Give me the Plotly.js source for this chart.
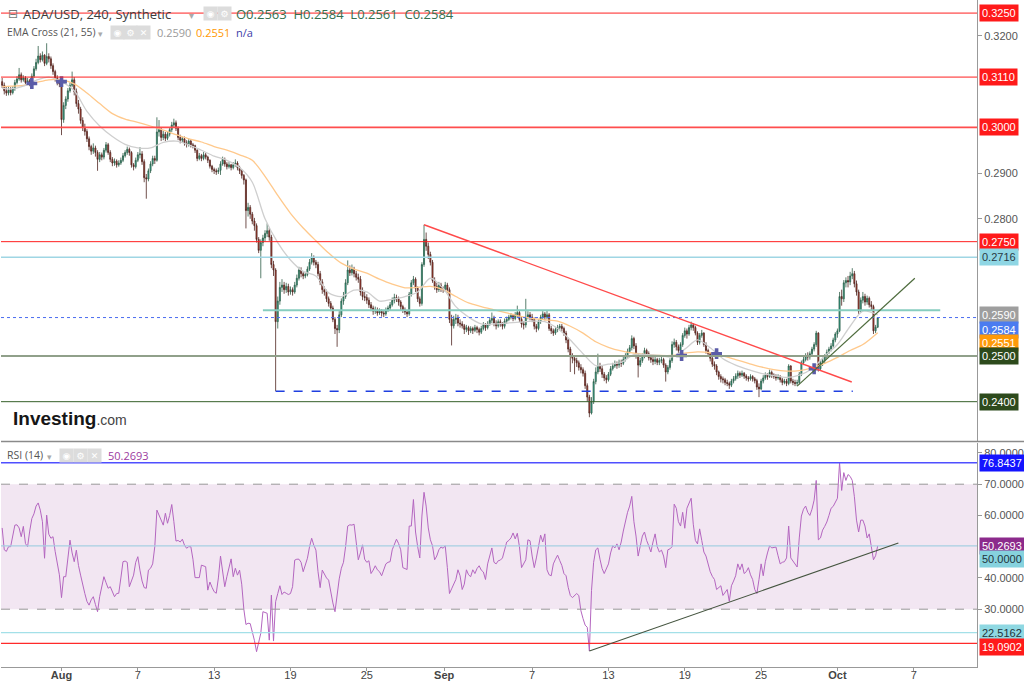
<!DOCTYPE html>
<html><head><meta charset="utf-8">
<script src="https://cdn.plot.ly/plotly-3.0.1.min.js"></script>
<style>html,body{margin:0;padding:0;background:#fff}#chart{width:1024px;height:685px}</style>
</head><body><div id="chart"></div>
<script>
// ---------- DATA (ADA/USD, 4h candles) ----------
const firstCandle = '2023-07-27T08:00:00Z';
const firstOpen = 0.3100;
const closes = [
0.3092,0.3080,0.3075,0.3082,
0.3076,0.3085,0.3098,0.3106,0.3115,0.3104,
0.3108,0.3098,0.3102,0.3096,0.3112,0.3128,
0.3142,0.3156,0.3148,0.3158,0.3140,0.3155,
0.3150,0.3135,0.3122,0.3108,0.3100,0.3095,
0.3017,0.3048,0.3062,0.3080,0.3092,0.3104,
0.3078,0.3052,0.3040,0.3015,0.3000,0.2991,
0.2975,0.2958,0.2948,0.2955,0.2945,0.2930,
0.2940,0.2935,0.2950,0.2962,0.2945,0.2930,
0.2922,0.2926,0.2918,0.2922,0.2928,0.2938,
0.2945,0.2952,0.2945,0.2918,0.2914,0.2928,
0.2940,0.2942,0.2925,0.2890,0.2887,0.2905,
0.2920,0.2932,0.2928,0.2990,0.2995,0.2978,
0.2985,0.2976,0.2985,0.2995,0.3005,0.3010,
0.2998,0.2978,0.2972,0.2975,0.2966,0.2963,
0.2970,0.2962,0.2960,0.2950,0.2932,0.2938,
0.2932,0.2940,0.2935,0.2928,0.2915,0.2908,
0.2905,0.2903,0.2906,0.2920,0.2930,0.2920,
0.2914,0.2918,0.2912,0.2918,0.2922,0.2912,
0.2905,0.2895,0.2885,0.2818,0.2825,0.2810,
0.2795,0.2785,0.2755,0.2731,0.2748,0.2758,
0.2768,0.2774,0.2760,0.2700,0.2688,0.2575,
0.2620,0.2650,0.2655,0.2645,0.2652,0.2640,
0.2645,0.2640,0.2655,0.2670,0.2688,0.2680,
0.2675,0.2678,0.2690,0.2705,0.2715,0.2705,
0.2700,0.2680,0.2662,0.2645,0.2640,0.2625,
0.2615,0.2605,0.2580,0.2560,0.2557,0.2590,
0.2620,0.2630,0.2660,0.2688,0.2682,0.2690,
0.2680,0.2672,0.2668,0.2640,0.2630,0.2628,
0.2622,0.2612,0.2605,0.2598,0.2600,0.2594,
0.2598,0.2594,0.2592,0.2600,0.2605,0.2612,
0.2622,0.2628,0.2625,0.2618,0.2608,0.2600,
0.2596,0.2592,0.2635,0.2660,0.2668,0.2648,
0.2625,0.2615,0.2700,0.2755,0.2740,0.2722,
0.2705,0.2665,0.2652,0.2645,0.2655,0.2648,
0.2645,0.2655,0.2645,0.2580,0.2566,0.2580,
0.2583,0.2572,0.2570,0.2566,0.2558,0.2562,
0.2555,0.2560,0.2556,0.2562,0.2558,0.2552,
0.2560,0.2568,0.2562,0.2570,0.2578,0.2582,
0.2572,0.2566,0.2575,0.2570,0.2565,0.2576,
0.2580,0.2585,0.2588,0.2582,0.2590,0.2595,
0.2580,0.2570,0.2568,0.2585,0.2590,0.2585,
0.2580,0.2565,0.2560,0.2575,0.2585,0.2592,
0.2585,0.2590,0.2560,0.2555,0.2550,0.2558,
0.2562,0.2565,0.2560,0.2550,0.2535,0.2515,
0.2500,0.2495,0.2490,0.2485,0.2475,0.2470,
0.2462,0.2435,0.2410,0.2375,0.2400,0.2444,
0.2465,0.2478,0.2472,0.2460,0.2452,0.2448,
0.2460,0.2472,0.2478,0.2482,0.2480,0.2486,
0.2484,0.2492,0.2500,0.2510,0.2518,0.2538,
0.2522,0.2500,0.2480,0.2490,0.2500,0.2512,
0.2505,0.2496,0.2492,0.2488,0.2492,0.2486,
0.2490,0.2492,0.2480,0.2465,0.2475,0.2490,
0.2525,0.2530,0.2520,0.2512,0.2525,0.2545,
0.2555,0.2548,0.2562,0.2568,0.2562,0.2550,
0.2530,0.2545,0.2550,0.2525,0.2512,0.2505,
0.2495,0.2482,0.2478,0.2465,0.2455,0.2450,
0.2448,0.2442,0.2440,0.2436,0.2445,0.2450,
0.2456,0.2462,0.2458,0.2462,0.2456,0.2452,
0.2450,0.2455,0.2450,0.2446,0.2432,0.2428,
0.2445,0.2452,0.2458,0.2455,0.2464,0.2458,
0.2455,0.2452,0.2455,0.2448,0.2442,0.2445,
0.2440,0.2478,0.2445,0.2442,0.2440,0.2442,
0.2460,0.2485,0.2492,0.2500,0.2498,0.2505,
0.2515,0.2525,0.2550,0.2472,0.2485,0.2490,
0.2498,0.2508,0.2515,0.2522,0.2535,0.2548,
0.2555,0.2630,0.2625,0.2660,0.2665,0.2662,
0.2675,0.2680,0.2658,0.2640,0.2598,0.2622,
0.2630,0.2618,0.2626,0.2612,0.2608,0.2555,
0.2563,0.2584];
const highs = [
0.3108,0.3098,0.3088,0.3090,
0.3088,0.3090,0.3104,0.3112,0.3130,0.3120,
0.3114,0.3112,0.3108,0.3106,0.3118,0.3134,
0.3150,0.3178,0.3162,0.3166,0.3160,0.3184,
0.3162,0.3155,0.3140,0.3126,0.3114,0.3106,
0.3098,0.3055,0.3068,0.3086,0.3098,0.3122,
0.3110,0.3085,0.3060,0.3045,0.3022,0.3008,
0.2996,0.2980,0.2962,0.2965,0.2960,0.2950,
0.2946,0.2945,0.2955,0.2968,0.2966,0.2950,
0.2935,0.2932,0.2930,0.2928,0.2934,0.2944,
0.2950,0.2958,0.2956,0.2948,0.2922,0.2934,
0.2946,0.2957,0.2948,0.2930,0.2898,0.2910,
0.2926,0.2938,0.2938,0.3022,0.3016,0.3000,
0.2992,0.2990,0.2990,0.3000,0.3012,0.3019,
0.3015,0.3002,0.2984,0.2980,0.2980,0.2972,
0.2976,0.2974,0.2966,0.2962,0.2952,0.2944,
0.2942,0.2946,0.2944,0.2938,0.2930,0.2918,
0.2912,0.2910,0.2912,0.2926,0.2936,0.2934,
0.2924,0.2924,0.2920,0.2924,0.2930,0.2926,
0.2916,0.2908,0.2898,0.2888,0.2835,0.2830,
0.2815,0.2802,0.2790,0.2760,0.2755,0.2765,
0.2775,0.2790,0.2780,0.2765,0.2708,0.2692,
0.2630,0.2662,0.2668,0.2662,0.2660,0.2658,
0.2652,0.2650,0.2662,0.2678,0.2695,0.2694,
0.2685,0.2684,0.2696,0.2712,0.2725,0.2720,
0.2710,0.2706,0.2686,0.2668,0.2652,0.2645,
0.2630,0.2620,0.2610,0.2585,0.2568,0.2598,
0.2626,0.2640,0.2668,0.2709,0.2698,0.2700,
0.2695,0.2686,0.2680,0.2675,0.2650,0.2640,
0.2635,0.2628,0.2618,0.2610,0.2608,0.2606,
0.2604,0.2602,0.2600,0.2606,0.2610,0.2618,
0.2628,0.2636,0.2634,0.2630,0.2622,0.2612,
0.2606,0.2600,0.2640,0.2666,0.2675,0.2672,
0.2652,0.2630,0.2705,0.2787,0.2770,0.2748,
0.2728,0.2710,0.2672,0.2660,0.2662,0.2660,
0.2652,0.2662,0.2660,0.2650,0.2590,0.2588,
0.2592,0.2590,0.2580,0.2576,0.2570,0.2568,
0.2566,0.2565,0.2564,0.2568,0.2566,0.2562,
0.2566,0.2574,0.2572,0.2576,0.2584,0.2595,
0.2588,0.2578,0.2580,0.2580,0.2574,0.2582,
0.2586,0.2590,0.2594,0.2592,0.2596,0.2610,
0.2600,0.2585,0.2576,0.2625,0.2598,0.2596,
0.2592,0.2584,0.2570,0.2580,0.2590,0.2598,
0.2596,0.2600,0.2594,0.2566,0.2560,0.2564,
0.2568,0.2570,0.2570,0.2564,0.2555,0.2540,
0.2520,0.2506,0.2500,0.2496,0.2490,0.2482,
0.2475,0.2468,0.2440,0.2415,0.2410,0.2450,
0.2475,0.2505,0.2485,0.2478,0.2465,0.2458,
0.2465,0.2478,0.2485,0.2490,0.2488,0.2492,
0.2492,0.2498,0.2506,0.2516,0.2524,0.2545,
0.2542,0.2528,0.2505,0.2496,0.2506,0.2518,
0.2516,0.2510,0.2500,0.2498,0.2498,0.2496,
0.2496,0.2498,0.2496,0.2484,0.2480,0.2495,
0.2532,0.2538,0.2535,0.2525,0.2530,0.2550,
0.2562,0.2560,0.2568,0.2575,0.2572,0.2566,
0.2554,0.2550,0.2557,0.2552,0.2530,0.2516,
0.2508,0.2498,0.2488,0.2482,0.2468,0.2460,
0.2455,0.2452,0.2448,0.2444,0.2450,0.2456,
0.2462,0.2468,0.2466,0.2468,0.2465,0.2460,
0.2456,0.2460,0.2458,0.2454,0.2450,0.2440,
0.2450,0.2458,0.2464,0.2462,0.2470,0.2468,
0.2462,0.2460,0.2460,0.2458,0.2452,0.2450,
0.2450,0.2482,0.2480,0.2450,0.2448,0.2448,
0.2465,0.2490,0.2498,0.2506,0.2508,0.2510,
0.2520,0.2530,0.2555,0.2552,0.2490,0.2496,
0.2504,0.2514,0.2520,0.2528,0.2540,0.2552,
0.2560,0.2640,0.2645,0.2666,0.2672,0.2675,
0.2684,0.2692,0.2686,0.2665,0.2645,0.2628,
0.2640,0.2636,0.2632,0.2630,0.2620,0.2612,
0.2568,0.2584];
const lows = [
0.3086,0.3072,0.3069,0.3070,
0.3070,0.3072,0.3080,0.3094,0.3102,0.3098,
0.3100,0.3094,0.3094,0.3090,0.3092,0.3108,
0.3124,0.3138,0.3142,0.3144,0.3134,0.3136,
0.3142,0.3128,0.3115,0.3100,0.3092,0.3088,
0.2983,0.3010,0.3040,0.3056,0.3076,0.3088,
0.3070,0.3045,0.3030,0.3008,0.2992,0.2982,
0.2968,0.2950,0.2940,0.2942,0.2936,0.2905,
0.2924,0.2928,0.2930,0.2945,0.2940,0.2924,
0.2915,0.2916,0.2912,0.2914,0.2918,0.2924,
0.2934,0.2940,0.2938,0.2912,0.2906,0.2910,
0.2924,0.2932,0.2918,0.2880,0.2844,0.2882,
0.2900,0.2915,0.2920,0.2925,0.2980,0.2970,
0.2972,0.2970,0.2972,0.2980,0.2990,0.3000,
0.2992,0.2972,0.2965,0.2966,0.2960,0.2956,
0.2958,0.2956,0.2954,0.2944,0.2926,0.2928,
0.2926,0.2928,0.2930,0.2922,0.2910,0.2902,
0.2898,0.2896,0.2898,0.2896,0.2916,0.2914,
0.2908,0.2910,0.2906,0.2908,0.2914,0.2906,
0.2898,0.2888,0.2875,0.2779,0.2805,0.2800,
0.2788,0.2774,0.2748,0.2725,0.2670,0.2740,
0.2750,0.2760,0.2752,0.2692,0.2675,0.2423,
0.2560,0.2612,0.2640,0.2636,0.2638,0.2632,
0.2634,0.2632,0.2636,0.2650,0.2665,0.2672,
0.2668,0.2670,0.2674,0.2686,0.2700,0.2698,
0.2692,0.2674,0.2655,0.2636,0.2632,0.2618,
0.2608,0.2598,0.2574,0.2548,0.2520,0.2550,
0.2585,0.2612,0.2625,0.2655,0.2675,0.2676,
0.2672,0.2665,0.2660,0.2632,0.2622,0.2620,
0.2614,0.2605,0.2598,0.2590,0.2592,0.2588,
0.2590,0.2586,0.2585,0.2588,0.2596,0.2600,
0.2608,0.2615,0.2618,0.2610,0.2600,0.2594,
0.2590,0.2585,0.2588,0.2630,0.2655,0.2640,
0.2618,0.2608,0.2610,0.2695,0.2730,0.2712,
0.2698,0.2660,0.2645,0.2638,0.2640,0.2640,
0.2638,0.2640,0.2638,0.2572,0.2523,0.2560,
0.2570,0.2565,0.2562,0.2560,0.2548,0.2552,
0.2546,0.2550,0.2548,0.2552,0.2550,0.2545,
0.2548,0.2556,0.2555,0.2558,0.2566,0.2572,
0.2565,0.2558,0.2562,0.2564,0.2558,0.2560,
0.2570,0.2576,0.2580,0.2576,0.2578,0.2584,
0.2574,0.2562,0.2558,0.2562,0.2580,0.2578,
0.2574,0.2558,0.2552,0.2556,0.2570,0.2580,
0.2578,0.2580,0.2555,0.2548,0.2544,0.2546,
0.2552,0.2556,0.2554,0.2544,0.2528,0.2508,
0.2465,0.2484,0.2460,0.2476,0.2468,0.2462,
0.2455,0.2428,0.2400,0.2366,0.2372,0.2395,
0.2438,0.2460,0.2465,0.2452,0.2445,0.2440,
0.2444,0.2456,0.2468,0.2474,0.2472,0.2474,
0.2476,0.2480,0.2488,0.2496,0.2506,0.2512,
0.2515,0.2494,0.2453,0.2476,0.2485,0.2495,
0.2498,0.2490,0.2485,0.2480,0.2482,0.2480,
0.2480,0.2484,0.2474,0.2444,0.2460,0.2470,
0.2485,0.2518,0.2512,0.2500,0.2506,0.2520,
0.2540,0.2538,0.2544,0.2556,0.2555,0.2545,
0.2524,0.2525,0.2540,0.2520,0.2505,0.2498,
0.2488,0.2476,0.2470,0.2458,0.2448,0.2442,
0.2440,0.2436,0.2434,0.2428,0.2432,0.2440,
0.2446,0.2450,0.2452,0.2454,0.2450,0.2446,
0.2444,0.2446,0.2444,0.2440,0.2426,0.2410,
0.2425,0.2440,0.2448,0.2448,0.2452,0.2452,
0.2450,0.2446,0.2448,0.2442,0.2436,0.2438,
0.2434,0.2436,0.2440,0.2436,0.2434,0.2434,
0.2438,0.2456,0.2480,0.2488,0.2490,0.2492,
0.2500,0.2510,0.2520,0.2466,0.2468,0.2478,
0.2484,0.2494,0.2504,0.2510,0.2518,0.2530,
0.2540,0.2552,0.2610,0.2618,0.2650,0.2650,
0.2655,0.2668,0.2650,0.2632,0.2592,0.2595,
0.2615,0.2610,0.2612,0.2606,0.2600,0.2548,
0.2550,0.2561];
// RSI(14), one value per candle
const rsi = [
56.0,49.0,48.5,50.0,
50.0,53.0,56.9,57.0,56.0,53.2,
56.5,51.0,50.0,55.0,59.0,60.5,
63.0,64.0,61.7,58.0,46.3,60.1,
54.0,52.7,53.2,48.5,45.2,41.0,
33.7,40.4,40.4,46.0,52.1,48.0,
45.2,48.9,44.0,40.9,37.5,35.0,
32.5,31.3,33.0,34.0,31.5,29.2,
34.0,37.0,40.4,38.5,36.7,37.2,
35.5,34.0,35.0,35.1,40.0,45.2,
45.4,45.0,37.2,39.0,40.9,45.0,
46.8,42.5,39.0,36.9,36.7,42.5,
43.1,44.5,50.0,61.7,60.1,58.0,
56.9,60.7,57.5,60.0,63.5,58.0,
51.8,52.0,51.5,52.4,50.5,49.5,
50.0,50.0,46.0,40.1,40.1,40.1,
44.1,43.8,43.6,36.1,38.7,37.0,
35.6,35.1,40.0,47.0,42.0,37.2,
40.4,43.0,46.1,40.4,43.1,40.9,
42.5,38.0,30.0,25.1,25.5,25.4,
22.8,20.0,16.4,19.0,22.3,29.2,
29.0,28.7,20.1,34.5,19.8,32.4,
35.0,37.5,34.7,35.5,35.1,34.7,
35.0,37.2,45.7,46.0,46.0,45.0,
42.0,44.5,46.3,50.0,52.7,50.5,
48.9,42.0,36.9,42.5,41.0,40.0,
39.3,35.0,32.0,29.2,35.0,39.7,
43.1,45.0,50.0,56.6,57.0,56.9,
57.2,52.0,45.8,48.0,50.6,46.0,
45.0,45.5,41.4,42.5,43.9,42.6,
42.0,40.7,43.0,44.5,45.0,45.2,
49.0,50.9,52.4,51.0,49.0,43.3,
43.0,42.7,56.6,56.6,65.1,54.7,
50.0,46.4,59.8,67.4,63.0,56.0,
52.2,50.3,45.8,47.0,49.0,49.9,
49.5,50.3,43.3,35.0,36.5,38.2,
39.5,42.6,40.7,36.3,38.0,42.6,
41.0,40.4,42.6,41.4,43.0,43.9,
42.5,41.9,39.5,44.5,47.0,49.6,
45.0,44.5,45.5,45.7,46.4,49.0,
51.5,52.0,52.8,54.4,52.5,54.3,
50.0,43.3,44.5,45.8,52.2,51.9,
47.0,43.3,46.4,50.0,53.7,51.5,
54.1,42.6,41.0,40.7,44.5,46.0,
47.3,45.6,44.0,41.4,40.7,37.0,
34.4,33.7,34.5,35.0,34.4,29.5,
27.0,24.9,24.2,16.6,36.0,45.0,
49.0,49.6,46.0,43.0,41.4,43.0,
44.5,48.0,50.3,49.6,50.9,49.0,
51.5,55.0,58.5,61.0,63.0,66.1,
58.0,53.4,47.0,50.0,53.4,54.7,
52.0,50.3,48.3,51.5,54.1,50.0,
48.3,48.9,47.0,43.3,49.0,49.3,
50.0,63.6,62.3,58.0,56.6,61.0,
55.9,62.3,64.0,65.5,57.2,52.0,
50.9,55.7,52.0,48.3,47.0,44.0,
42.0,40.5,39.5,36.3,37.0,37.5,
34.4,35.5,36.3,32.5,37.5,39.0,
40.7,44.5,42.6,44.5,41.4,42.0,
43.3,41.0,39.5,36.3,35.0,39.5,
44.5,40.7,45.2,48.0,50.3,49.6,
49.8,49.9,47.1,44.5,45.0,45.2,
46.4,56.6,46.4,45.5,44.5,43.5,
52.8,59.8,62.0,63.0,61.0,60.0,
62.0,64.9,71.2,52.2,52.8,55.3,
56.5,57.9,60.0,62.3,62.9,64.5,
65.5,76.8437,68.0,73.7,71.2,73.1,
72.5,71.2,66.0,58.5,54.7,58.5,
58.5,56.6,52.8,54.1,50.0,45.8,
47.1,50.2693];
// EMA Cross (21, 55): one reading per day (Jul 27 08:00, Jul 28 ... Oct 3 00:00, Oct 4 04:00)
const ema21 = [0.3086,0.3084,0.3090,0.3103,0.3110,
0.3100,0.3080,0.3035,0.3003,0.2980,0.2963,0.2955,0.2955,0.2967,0.2970,0.2962,0.2950,0.2937,0.2928,0.2912,0.2880,
0.2800,0.2748,0.2710,0.2685,0.2675,0.2638,0.2630,0.2644,0.2640,0.2620,0.2624,0.2630,0.2640,0.2670,0.2648,
0.2608,0.2585,0.2570,0.2570,0.2572,0.2574,0.2576,0.2575,0.2560,0.2535,0.2505,0.2479,0.2482,0.2486,0.2503,
0.2503,0.2501,0.2498,0.2515,0.2535,0.2518,0.2494,0.2480,0.2470,0.2462,0.2457,0.2453,0.2458,0.2472,0.2500,
0.2525,0.2565,0.2598,0.2590];
const ema55 = [0.3089,0.3090,0.3092,0.3098,0.3104,
0.3104,0.3095,0.3075,0.3052,0.3030,0.3018,0.3011,0.3003,0.2994,0.2984,0.2975,0.2968,0.2958,0.2950,0.2940,0.2928,
0.2893,0.2851,0.2812,0.2780,0.2752,0.2725,0.2703,0.2690,0.2681,0.2668,0.2657,0.2649,0.2650,0.2652,0.2645,
0.2630,0.2616,0.2608,0.2601,0.2594,0.2587,0.2582,0.2579,0.2576,0.2565,0.2550,0.2531,0.2519,0.2511,0.2506,
0.2503,0.2501,0.2501,0.2506,0.2509,0.2507,0.2500,0.2492,0.2484,0.2476,0.2470,0.2467,0.2468,0.2474,0.2484,
0.2497,0.2512,0.2525,0.2551];
const crossTimes = ['2023-07-29 16:00','2023-08-01 00:00','2023-09-18 18:00','2023-09-21 12:00','2023-09-29 04:00'];
const crossPrices = [0.3096,0.3100,0.2501,0.2505,0.2472];
// drawn levels
const redLevels = [0.3250, 0.3110, 0.3000, 0.2750];
const blueLevel = 0.2716, zoneLevel = 0.2600, lastPrice = 0.2584, greenLevel = 0.2500, darkLevel = 0.2400, supportLevel = 0.2423;
const rsiLevels = {high: 76.8437, last: 50.2693, low1: 22.5162, low2: 19.0902};
const priceTicks = [0.28, 0.29, 0.32];
const rsiTicks = [30, 40, 60, 70, 80];
const tickVals = ['2023-08-01','2023-08-07','2023-08-13','2023-08-19','2023-08-25','2023-08-31 02:00','2023-09-07','2023-09-13','2023-09-19','2023-09-25','2023-10-01','2023-10-07'];
const tickText = ['<b>Aug</b>','7','13','19','25','<b>Sep</b>','7','13','19','25','<b>Oct</b>','7'];

// ---------- BUILD ----------
function fmt(ms){ return new Date(ms).toISOString().slice(0,16).replace('T',' '); }
const t0 = Date.parse(firstCandle);
const times = closes.map((_, i) => fmt(t0 + i*4*3600e3));
const opens = closes.map((c, i) => i === 0 ? firstOpen : closes[i-1]);
const emaTimes = ['2023-07-27 08:00'];
for (let d = 0; d < 68; d++) emaTimes.push(fmt(Date.parse('2023-07-28T00:00:00Z') + d*864e5));
emaTimes.push('2023-10-04 04:00');

const data = [
  {type:'scatter', mode:'lines', x: emaTimes, y: ema55, line:{color:'#ffc98c', width:1.3, shape:'spline', smoothing:0.8}, hoverinfo:'skip'},
  {type:'scatter', mode:'lines', x: emaTimes, y: ema21, line:{color:'#cfcfcf', width:1.3, shape:'spline', smoothing:0.8}, hoverinfo:'skip'},
  {type:'candlestick', x: times, open: opens, high: highs, low: lows, close: closes,
   increasing:{line:{color:'#2f5e48', width:0.8}, fillcolor:'#27b4a0'},
   decreasing:{line:{color:'#4e2420', width:0.8}, fillcolor:'#c8412f'},
   whiskerwidth:0, hoverinfo:'skip'},
  {type:'scatter', mode:'markers', x: crossTimes, y: crossPrices, marker:{symbol:'cross', size:9, color:'#5b5ca8', line:{width:0}}, hoverinfo:'skip'},
  {type:'scatter', mode:'lines', x: times, y: rsi, yaxis:'y2', line:{color:'#b466c0', width:1}, hoverinfo:'skip'}
];

const W = 976, H = 667;
const px = p => (p - 1) / W;
const py = p => (H - p) / H;

const shapes = [];
function hline(yref, y, color, width, dash, x0, x1, xref){
  shapes.push({type:'line', xref: xref || 'paper', yref, x0: x0 === undefined ? 0 : x0, x1: x1 === undefined ? 1 : x1, y0:y, y1:y, line:{color, width, dash: dash || 'solid'}});
}
// RSI band
shapes.push({type:'rect', xref:'paper', yref:'y2', x0:0, x1:1, y0:30, y1:70, fillcolor:'#f2e6f2', line:{width:0}, layer:'below'});
redLevels.forEach((v, i) => hline('y', v, i === 2 ? '#ff4d4d' : '#ff1f1f', i === 2 ? 1.6 : 1));
hline('y', blueLevel, '#9fd6e4', 1.5);
hline('y', zoneLevel, '#86cdbf', 2, 'solid', '2023-08-16 20:00', '2023-10-09 02:00', 'x');
hline('y', lastPrice, '#4a6cf0', 1, 'dot');
hline('y', greenLevel, '#90a08a', 2);
hline('y', darkLevel, '#36602a', 1);
hline('y', supportLevel, '#1f3fe0', 1.5, 'dash', '2023-08-17 20:00', '2023-10-02 05:00', 'x');
shapes.push({type:'line', xref:'x', yref:'y', x0:'2023-08-29 12:00', y0:0.2787, x1:'2023-10-02 03:00', y1:0.2443, line:{color:'#ff4a4a', width:1.4}});
shapes.push({type:'line', xref:'x', yref:'y', x0:'2023-09-27 20:00', y0:0.2434, x1:'2023-10-07 02:00', y1:0.2670, line:{color:'#4d6b3c', width:1.2}});
// RSI pane
hline('y2', rsiLevels.high, '#4f4fff', 1.5);
hline('y2', 70, '#999', 1, 'dash');
hline('y2', 30, '#999', 1, 'dash');
hline('y2', rsiLevels.last, '#a6cfe2', 1.2);
hline('y2', rsiLevels.low1, '#a3e0e8', 1.2);
hline('y2', rsiLevels.low2, '#ff2a2a', 1.2);
shapes.push({type:'line', xref:'x', yref:'y2', x0:'2023-09-11 12:00', y0:16.6, x1:'2023-10-05 19:00', y1:51.2, line:{color:'#44543f', width:1.1}});
// pane separator
shapes.push({type:'line', xref:'paper', yref:'paper', x0:0, x1:1024/W, y0:py(441.5), y1:py(441.5), line:{color:'#8a8a8a', width:1.5}});

const annotations = [];
function txt(x, y, text, size, color, extra){
  annotations.push(Object.assign({xref:'paper', yref:'paper', x:px(x), y:py(y), xanchor:'left', yanchor:'middle', text, showarrow:false,
    font:{family:'Open Sans, DejaVu Sans, sans-serif', size, color}}, extra || {}));
}
function icon(x, y, glyph){
  annotations.push({xref:'paper', yref:'paper', x:px(x), y:py(y), xanchor:'left', yanchor:'middle', text:glyph, showarrow:false,
    bgcolor:'#dcdcdc', borderpad:1, width:11, height:11, font:{family:'DejaVu Sans', size:9, color:'#ffffff'}});
}
function tag(yref, y, text, bg, fg, yshift){
  annotations.push({xref:'paper', yref, x:1, y, xanchor:'left', yanchor:'middle', xshift:2, yshift: yshift || 0, text, showarrow:false,
    bgcolor:bg, borderpad:2, font:{family:'Liberation Sans, Arial, sans-serif', size:11, color:fg}});
}
// top legend
txt(6, 14, '⊟', 12, '#777');
txt(21, 14, 'ADA/USD, 240, Synthetic', 13, '#3c3c3c');
txt(187, 15, '▾', 10, '#aaa');
icon(203, 14, '◉'); icon(217, 14, '⚙');
txt(234, 14, 'O0.2563  H0.2584  L0.2561  C0.2584', 13, '#36704f');
txt(5, 32, 'EMA Cross (21, 55)', 10.3, '#555');
txt(96, 33, '▾', 9, '#aaa');
icon(110, 32, '◉'); icon(123, 32, '⚙'); icon(136, 32, '✕');
txt(155, 32, '0.2590', 11, '#9a9a9a');
txt(194, 32, '0.2551', 11, '#ff9800');
txt(234, 32, 'n/a', 11, '#4040a8');
txt(5, 455, 'RSI (14)', 10.5, '#555');
txt(45, 456, '▾', 9, '#aaa');
icon(59, 455, '◉'); icon(73, 455, '⚙'); icon(87, 455, '✕');
txt(106, 455, '50.2693', 11, '#9c3aa0');
txt(11, 418, '<b>Investing</b><span style="font-size:14px;color:#444">.com</span>', 19, '#161616',
    {font:{family:'Liberation Sans, Arial, sans-serif', size:19, color:'#161616'}});
// right axis value tags
redLevels.forEach(v => tag('y', v, v.toFixed(4), '#ff1a1a', '#ffffff'));
tag('y', blueLevel, blueLevel.toFixed(4), '#8fd6e4', '#2a3a44');
tag('y', 0.2590, '0.2590', '#9e9e9e', '#ffffff');
tag('y', lastPrice, lastPrice.toFixed(4), '#4b7cf0', '#ffffff', -12);
tag('y', 0.2551, '0.2551', '#ff9a0a', '#ffffff', -10.5);
tag('y', greenLevel, greenLevel.toFixed(4), '#2d4a1c', '#ffffff');
tag('y', darkLevel, darkLevel.toFixed(4), '#2d4a1c', '#ffffff');
tag('y2', rsiLevels.high, rsiLevels.high.toFixed(4), '#1414ff', '#ffffff');
tag('y2', rsiLevels.last, rsiLevels.last.toFixed(4), '#8c2a8c', '#ffffff');
tag('y2', 50, '50.0000', '#86d2de', '#22333a', -12.5);
tag('y2', rsiLevels.low1, rsiLevels.low1.toFixed(4), '#8fd8e2', '#22333a');
tag('y2', rsiLevels.low2, rsiLevels.low2.toFixed(4), '#ff1a1a', '#ffffff', -4);

const axisFont = {family:'Liberation Sans, Arial, sans-serif', size:11, color:'#555'};
const layout = {
  width:1024, height:685, margin:{l:1, r:47, t:0, b:18},
  paper_bgcolor:'#ffffff', plot_bgcolor:'#ffffff', showlegend:false, hovermode:false,
  xaxis:{type:'date', anchor:'y2', range:['2023-07-27 05:50','2023-10-11 23:20'], showgrid:false, zeroline:false,
    tickmode:'array', tickvals:tickVals, ticktext:tickText, ticks:'outside', ticklen:3, tickcolor:'#999', ticklabelstandoff:-5,
    tickfont:{family:'Liberation Sans, Arial, sans-serif', size:11, color:'#444'}, showline:true, linecolor:'#999', linewidth:1,
    rangeslider:{visible:false}, fixedrange:true},
  yaxis:{domain:[(H-441)/H, 1], range:[0.2314, 0.32786], side:'right', anchor:'x', showgrid:false, zeroline:false,
    tickmode:'array', tickvals:priceTicks, tickformat:'.4f',
    ticks:'outside', ticklen:4, tickcolor:'#999', tickfont:axisFont, showline:true, linecolor:'#999', fixedrange:true},
  yaxis2:{domain:[0, (H-443)/H], range:[11.5, 83.18], side:'right', anchor:'x', showgrid:false, zeroline:false,
    tickmode:'array', tickvals:rsiTicks, tickformat:'.4f',
    ticks:'outside', ticklen:4, tickcolor:'#999', tickfont:axisFont, showline:true, linecolor:'#999', fixedrange:true},
  shapes, annotations
};
Plotly.newPlot('chart', data, layout, {staticPlot:true, displayModeBar:false});
</script></body></html>
